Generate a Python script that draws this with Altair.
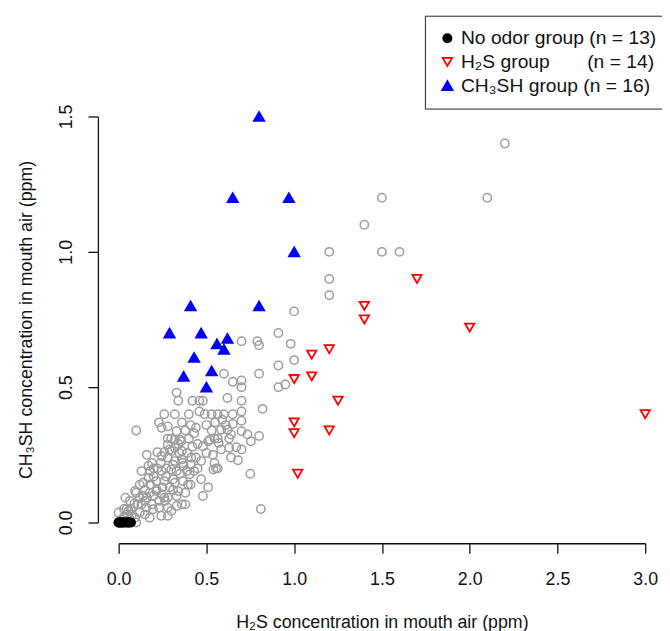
import altair as alt
import pandas as pd

# ---- data ----
gray_x = [2.2, 1.5, 2.1, 1.4, 1.2, 1.5, 1.6, 1.2, 1.2, 1.0, 0.91, 0.98, 1.0, 0.91, 0.95, 0.91,
          0.70, 0.79, 0.80, 0.60, 0.65, 0.70, 0.70, 0.80, 0.33, 0.34, 0.42, 0.46, 0.48, 0.62,
          0.70, 0.82, 0.26, 0.32, 0.40, 0.46, 0.49, 0.53, 0.60, 0.65, 0.70, 0.565, 0.59, 0.61,
          0.70, 0.23, 0.245, 0.28, 0.65, 0.10, 0.33, 0.41, 0.43, 0.64, 0.70, 0.80, 0.584, 0.62,
          0.734, 0.753, 0.63, 0.565, 0.28, 0.30, 0.35, 0.34, 0.45, 0.51, 0.52, 0.546, 0.57, 0.584,
          0.67, 0.70, 0.28, 0.32, 0.36, 0.48, 0.50, 0.537, 0.63, 0.29, 0.39, 0.16, 0.30, 0.346,
          0.356, 0.32, 0.245, 0.28, 0.32, 0.36, 0.414, 0.47, 0.546, 0.64, 0.19, 0.68, 0.565, 0.17,
          0.20, 0.245, 0.30, 0.37, 0.405, 0.45, 0.54, 0.555, 0.27, 0.31, 0.365, 0.41, 0.75, 0.81,
          0.47, 0.51, 0.48, 0.26, 0.32, 0.395, 0.216, 0.28, 0.19, 0.23, 0.28, 0.11, 0.056, 0.075,
          0.038, 0.094, 0.14, 0.17, 0.13, 0.094, 0.10, 0.15, 0.16, 0.245, 0.34, 0.36, 0.215, 0.12,
          0.31, 0.365, 0.41, 0.10, 0.14, 0.177, 0.215, 0.26, 0.33, 0.38, 0.28, 0.33, 0.38, 0.045,
          0.12, 0.158, 0.196, 0.064, 0.15, 0.026, 0.064, 0.177, 0.243, 0.30, 0.264, 0.13, 0.0, 0.02,
          0.18, 0.20, 0.22, 0.24, 0.26, 0.22, 0.18, 0.15, 0.12, 0.09, 0.07, 0.05, 0.03, 0.20,
          0.23, 0.25, 0.29, 0.31, 0.27, 0.33, 0.35, 0.39, 0.43, 0.44, 0.42, 0.40, 0.38, 0.36,
          0.44, 0.50, 0.53, 0.55]
gray_y = [1.4, 1.2, 1.2, 1.1, 1.0, 1.0, 1.0, 0.9, 0.84, 0.78, 0.70, 0.66, 0.60, 0.58, 0.51, 0.50,
          0.67, 0.67, 0.655, 0.55, 0.52, 0.525, 0.50, 0.55, 0.48, 0.45, 0.45, 0.45, 0.45, 0.46,
          0.45, 0.42, 0.40, 0.40, 0.40, 0.41, 0.40, 0.40, 0.40, 0.40, 0.41, 0.40, 0.38, 0.36,
          0.376, 0.37, 0.35, 0.355, 0.364, 0.34, 0.337, 0.36, 0.33, 0.325, 0.337, 0.32, 0.343, 0.343,
          0.325, 0.30, 0.31, 0.31, 0.31, 0.31, 0.306, 0.29, 0.29, 0.30, 0.306, 0.31, 0.294, 0.27,
          0.278, 0.27, 0.288, 0.276, 0.264, 0.282, 0.257, 0.25, 0.276, 0.27, 0.257, 0.25, 0.264, 0.257,
          0.30, 0.306, 0.245, 0.24, 0.227, 0.233, 0.24, 0.227, 0.22, 0.24, 0.22, 0.23, 0.20, 0.21,
          0.20, 0.19, 0.196, 0.21, 0.178, 0.20, 0.196, 0.20, 0.20, 0.214, 0.22, 0.214, 0.18, 0.05,
          0.16, 0.13, 0.098, 0.153, 0.147, 0.14, 0.122, 0.092, 0.067, 0.055, 0.025, 0.067, 0.043, 0.03,
          0.092, 0.117, 0.147, 0.165, 0.19, 0.018, 0.0, 0.03, 0.092, 0.104, 0.116, 0.067, 0.153, 0.14,
          0.16, 0.153, 0.14, 0.11, 0.098, 0.11, 0.116, 0.092, 0.098, 0.11, 0.055, 0.061, 0.067, 0.049,
          0.037, 0.055, 0.049, 0.08, 0.08, 0.018, 0.012, 0.018, 0.025, 0.043, 0.08, 0.067, 0.037, 0.01,
          0.14, 0.17, 0.20, 0.22, 0.26, 0.26, 0.19, 0.12, 0.09, 0.07, 0.05, 0.03, 0.05, 0.10,
          0.08, 0.13, 0.13, 0.12, 0.17, 0.19, 0.18, 0.19, 0.19, 0.24, 0.28, 0.31, 0.34, 0.37,
          0.35, 0.36, 0.34, 0.37]

noodor_x = [0.0, 0.0, 0.005, 0.01, 0.015, 0.02, 0.025, 0.03, 0.04, 0.05, 0.055, 0.06, 0.07]
noodor_y = [0.0] * 13

h2s_x = [1.70, 1.40, 1.40, 2.00, 1.20, 1.10, 1.00, 1.10, 1.25, 1.00, 1.00, 1.20, 1.02, 3.00]
h2s_y = [0.90, 0.80, 0.75, 0.72, 0.64, 0.62, 0.53, 0.54, 0.45, 0.37, 0.33, 0.34, 0.18, 0.40]

ch3sh_x = [0.80, 0.65, 0.97, 1.00, 0.41, 0.80, 0.29, 0.47, 0.56, 0.62, 0.60, 0.43, 0.37, 0.53, 0.50]
ch3sh_y = [1.50, 1.20, 1.20, 1.00, 0.80, 0.80, 0.70, 0.70, 0.66, 0.68, 0.64, 0.61, 0.54, 0.56, 0.50]

groups = ["No odor group (n = 13)",
          "H\u2082S group" + "\u00a0" * 7 + "(n = 14)",
          "CH\u2083SH group (n = 16)"]
x_ticks = [0.0, 0.5, 1.0, 1.5, 2.0, 2.5, 3.0]
y_ticks = [0.0, 0.5, 1.0, 1.5]
x_title = "H\u2082S concentration in mouth air (ppm)"
y_title = "CH\u2083SH concentration in mouth air (ppm)"

df_gray = pd.DataFrame({"h2s": gray_x, "ch3sh": gray_y})
df_grp = pd.DataFrame({
    "h2s": noodor_x + h2s_x + ch3sh_x,
    "ch3sh": noodor_y + h2s_y + ch3sh_y,
    "group": [groups[0]] * len(noodor_x) + [groups[1]] * len(h2s_x) + [groups[2]] * len(ch3sh_x),
})

FONT = "Liberation Sans"

xscale = alt.Scale(domain=[0, 3], nice=False, zero=False)
yscale = alt.Scale(domain=[0, 1.5], nice=False, zero=False)

xaxis = alt.Axis(values=x_ticks, format=".1f", offset=21, tickSize=10, labelPadding=18,
                 labelFlush=False, titlePadding=25, grid=False)
yaxis = alt.Axis(values=y_ticks, format=".1f", offset=21, tickSize=10, labelPadding=13,
                 labelAngle=270, labelAlign="center", labelBaseline="bottom",
                 labelFlush=False, titlePadding=22, grid=False)

X = alt.X("h2s:Q", scale=xscale, axis=xaxis, title=x_title)
Y = alt.Y("ch3sh:Q", scale=yscale, axis=yaxis, title=y_title)

gray = alt.Chart(df_gray).mark_point(
    shape="circle", filled=False, color="#9c9c9c", strokeWidth=1.5, size=72, opacity=1
).encode(x=X, y=Y)

leg = alt.Legend(title=None, orient="none", legendX=310, legendY=-102,
                 strokeColor="#222222", padding=13, rowPadding=3, labelOffset=4,
                 labelFont=FONT, labelFontSize=19.5, labelColor="#111111", labelLimit=400,
                 symbolStrokeWidth=1.8)

pts = alt.Chart(df_grp).mark_point(opacity=1, strokeWidth=1.8).encode(
    x=X, y=Y,
    shape=alt.Shape("group:N", scale=alt.Scale(domain=groups, range=["circle", "triangle-down", "triangle-up"]), legend=leg),
    fill=alt.Fill("group:N", scale=alt.Scale(domain=groups, range=["#000000", "transparent", "#0000ff"]), legend=leg),
    stroke=alt.Stroke("group:N", scale=alt.Scale(domain=groups, range=["#000000", "#ff0000", "#0000ff"]), legend=leg),
    size=alt.Size("group:N", scale=alt.Scale(domain=groups, range=[70, 110, 125]), legend=leg),
)

chart = alt.layer(gray, pts).properties(
    width=533, height=411,
    autosize=alt.AutoSizeParams(type="none"),
    padding={"left": 112, "top": 106, "right": 17, "bottom": 106},
).configure_view(stroke=None).configure_axis(
    labelFont=FONT, titleFont=FONT, labelFontSize=18, titleFontSize=18,
    labelColor="#111111", titleColor="#111111", titleFontWeight="normal",
    domainColor="#111111", tickColor="#111111", domainWidth=1.3, tickWidth=1.3,
)

chart.save("out.html", embed_options={"renderer": "svg", "actions": False})
